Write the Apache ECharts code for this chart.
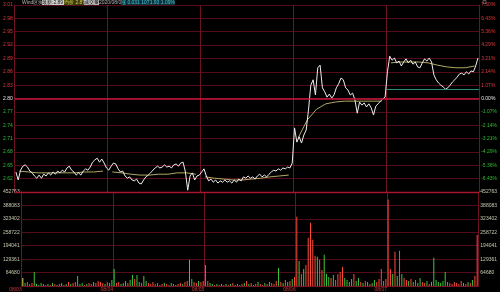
<!DOCTYPE html>
<html>
<head>
<meta charset="utf-8">
<script src="https://cdn.jsdelivr.net/npm/echarts@6/dist/echarts.min.js"></script>
<style>html,body{margin:0;padding:0;background:#000;}#c{width:500px;height:292px;}</style>
</head>
<body>
<div id="c"></div>
<script>
// ---- data ----
const dayLabels = ['08/03', '08/04', '08/05', '08/06', '08/07'];
const prevClose = 2.80;
const priceTicks = { min: 2.59, max: 3.01, step: 0.03 };
const volumeMax = 452763;
const refLineValue = 2.821;

const priceDay1 = [2.635,2.617,2.639,2.648,2.651,2.646,2.637,2.633,2.626,2.621,2.628,2.621,2.630,2.626,2.633,2.628,2.635,2.630,2.637,2.633,2.639,2.635,2.644,2.648,2.639,2.635,2.628,2.633,2.628,2.637,2.642,2.639,2.646,2.657,2.662,2.666,2.657,2.664,2.655,2.644];
const priceDay2 = [2.639,2.648,2.655,2.653,2.642,2.635,2.637,2.626,2.621,2.624,2.617,2.615,2.619,2.610,2.608,2.617,2.624,2.628,2.633,2.639,2.644,2.648,2.644,2.646,2.651,2.646,2.648,2.644,2.651,2.653,2.648,2.655,2.657,2.635,2.594,2.626,2.633,2.617,2.626,2.628];
const priceDay3 = [2.635,2.642,2.626,2.615,2.619,2.612,2.617,2.610,2.615,2.612,2.617,2.612,2.615,2.610,2.617,2.612,2.619,2.615,2.624,2.621,2.626,2.621,2.624,2.619,2.626,2.630,2.624,2.628,2.624,2.630,2.635,2.639,2.637,2.642,2.639,2.644,2.642,2.646,2.644,2.655];
const priceDay4 = [2.734,2.702,2.714,2.700,2.718,2.729,2.774,2.830,2.842,2.808,2.869,2.875,2.824,2.815,2.803,2.810,2.801,2.808,2.824,2.833,2.846,2.842,2.824,2.819,2.808,2.812,2.797,2.767,2.792,2.785,2.790,2.781,2.788,2.779,2.763,2.783,2.788,2.794,2.799,2.803];
const priceDay5 = [2.860,2.895,2.886,2.891,2.880,2.884,2.873,2.882,2.889,2.880,2.886,2.877,2.882,2.871,2.869,2.880,2.889,2.884,2.891,2.882,2.853,2.842,2.835,2.830,2.826,2.821,2.824,2.830,2.837,2.842,2.848,2.855,2.857,2.853,2.860,2.855,2.862,2.860,2.873,2.891];

const avgDay1 = [2.637,2.635,2.633,2.633,2.633,2.633,2.633,2.635,2.635,2.637];
const avgDay2 = [2.635,2.633,2.630,2.628,2.628,2.630,2.630,2.633,2.633,2.630];
const avgDay3 = [2.624,2.621,2.619,2.617,2.617,2.619,2.621,2.624,2.626,2.628];
const avgDay4 = [2.711,2.752,2.776,2.788,2.792,2.794,2.794,2.794,2.794,2.794];
const avgDay5 = [2.880,2.882,2.882,2.882,2.880,2.875,2.871,2.869,2.869,2.873];

const volDay1 = [38700,14500,19400,9700,14500,67800,9700,4800,14500,9700,4800,9700,4800,14500,9700,4800,9700,14500,4800,9700,19400,9700,14500,19400,48400,9700,14500,4800,9700,14500,9700,19400,14500,24200,19400,14500,9700,19400,14500,29100];
const volDay2 = [82300,14500,19400,9700,14500,24200,14500,29100,53300,33900,53300,19400,14500,48400,24200,14500,9700,19400,9700,14500,4800,9700,14500,9700,4800,14500,9700,4800,9700,14500,9700,19400,24200,125900,33900,19400,14500,24200,19400,24200];
const volDay3 = [101700,24200,14500,9700,4800,9700,4800,9700,4800,9700,4800,9700,14500,4800,9700,4800,9700,14500,24200,9700,14500,4800,9700,19400,9700,4800,14500,9700,19400,14500,9700,24200,87200,19400,14500,29100,19400,24200,33900,43600];
const volDay4 = [334100,120000,58100,82300,101700,232400,305000,222700,145300,140400,125900,77500,150100,58100,43600,38700,53300,29100,58100,67800,92000,38700,29100,19400,33900,58100,24200,38700,19400,14500,24200,19400,9700,14500,29100,19400,33900,82300,24200,33900];
const volDay5 = [416400,82300,58100,164600,48400,169500,58100,38700,29100,24200,33900,19400,29100,14500,38700,19400,14500,24200,9700,19400,135600,29100,19400,14500,24200,67800,19400,14500,9700,19400,14500,9700,24200,14500,9700,19400,14500,29100,48400,246900];

// ---- build ----
const perDay = 40;
const priceDays = [priceDay1, priceDay2, priceDay3, priceDay4, priceDay5];
const avgDays = [avgDay1, avgDay2, avgDay3, avgDay4, avgDay5];
const volDays = [volDay1, volDay2, volDay3, volDay4, volDay5];
const priceAll = [].concat(...priceDays);
const volAll = [].concat(...volDays);
const totalPts = priceAll.length;

const priceData = priceAll.map((v, i) => [i + 0.5, v]);
const volData = volAll.map((v, i) => {
  const prev = i > 0 ? priceAll[i - 1] : priceAll[0];
  const cur = priceAll[i];
  const col = cur > prev ? '#ff4a3a' : (cur < prev ? '#3cc83c' : '#e6d84a');
  return { value: [i + 0.5, v], itemStyle: { color: col } };
});

const avgSeries = avgDays.map((arr, d) => ({
  type: 'line', xAxisIndex: 0, yAxisIndex: 0, symbol: 'none', silent: true,
  lineStyle: { color: '#b2a862', width: 1 },
  data: arr.map((v, j) => [d * perDay + (j + 0.5) * (perDay / arr.length), v]),
  z: 3
}));

const gridColor = '#520c1a';
const fontFam = 'Liberation Sans, Arial, sans-serif';
const priceColor = v => (v > prevClose + 0.001 ? '#e03a3a' : (v < prevClose - 0.001 ? '#2fbf2f' : '#e8e8e8'));

const chart = echarts.init(document.getElementById('c'), null, { renderer: 'canvas' });
chart.setOption({
  backgroundColor: '#000',
  animation: false,
  grid: [
    { left: 14, right: 14, top: 5, height: 187 },
    { left: 14, right: 14, top: 192, height: 94 }
  ],
  xAxis: [
    { type: 'value', gridIndex: 0, min: 0, max: totalPts, interval: perDay,
      axisLine: { show: false }, axisTick: { show: false }, axisLabel: { show: false },
      splitLine: { show: true, lineStyle: { color: '#6e1226', width: 1 } } },
    { type: 'value', gridIndex: 1, min: 0, max: totalPts, interval: perDay,
      axisLine: { show: true, lineStyle: { color: '#7a1428' } }, axisTick: { show: false },
      splitLine: { show: true, lineStyle: { color: '#6e1226', width: 1 } },
      axisLabel: { show: true, fontSize: 5, color: '#c83a3a', fontFamily: fontFam, margin: 1, align: 'right',
        formatter: v => { const k = Math.round(v / perDay); return k < dayLabels.length ? dayLabels[k] : ''; } } }
  ],
  yAxis: [
    { type: 'value', gridIndex: 0, position: 'left', min: priceTicks.min, max: priceTicks.max, interval: priceTicks.step,
      axisLine: { show: true, lineStyle: { color: '#6e1226' } }, axisTick: { show: false },
      splitLine: { show: true, lineStyle: { color: gridColor, width: 1 } },
      axisLabel: { fontSize: 5, margin: 2, fontFamily: fontFam,
        formatter: v => (v < priceTicks.min + 0.005 ? '' : v.toFixed(2)),
        color: v => priceColor(v) } },
    { type: 'value', gridIndex: 0, position: 'right', min: priceTicks.min, max: priceTicks.max, interval: priceTicks.step,
      axisLine: { show: true, lineStyle: { color: '#6e1226' } }, axisTick: { show: false },
      splitLine: { show: false },
      axisLabel: { fontSize: 5, margin: 2, fontFamily: fontFam,
        formatter: v => (v < priceTicks.min + 0.005 ? '' : ((v - prevClose) / prevClose * 100).toFixed(2) + '%'),
        color: v => priceColor(v) } },
    { type: 'value', gridIndex: 1, position: 'left', min: 0, max: volumeMax, interval: volumeMax / 7,
      axisLine: { show: true, lineStyle: { color: '#6e1226' } }, axisTick: { show: false },
      splitLine: { show: true, lineStyle: { color: gridColor, width: 1 } },
      axisLabel: { fontSize: 5, margin: 2, fontFamily: fontFam, color: '#c8c8b0',
        formatter: v => (v < 1 ? '' : String(Math.round(v))) } },
    { type: 'value', gridIndex: 1, position: 'right', min: 0, max: volumeMax, interval: volumeMax / 7,
      axisLine: { show: true, lineStyle: { color: '#6e1226' } }, axisTick: { show: false },
      splitLine: { show: false },
      axisLabel: { fontSize: 5, margin: 2, fontFamily: fontFam, color: '#c8c8b0',
        formatter: v => (v < 1 ? '' : String(Math.round(v))) } }
  ],
  series: [
    { type: 'line', xAxisIndex: 0, yAxisIndex: 0, symbol: 'none', silent: true,
      lineStyle: { color: '#ececec', width: 1 }, data: priceData, z: 4,
      markLine: { silent: true, symbol: 'none', label: { show: false },
        data: [
          { yAxis: prevClose, lineStyle: { color: '#c8143a', width: 1.6, type: 'solid' } },
          { yAxis: priceTicks.min, lineStyle: { color: '#a8142c', width: 1.4, type: 'solid' } },
          [ { coord: [4 * perDay, refLineValue], lineStyle: { color: '#2c8c7c', width: 1, type: 'solid' } },
            { coord: [5 * perDay, refLineValue] } ]
        ] } },
    ...avgSeries,
    { type: 'bar', xAxisIndex: 1, yAxisIndex: 2, barWidth: 1, silent: true, data: volData, z: 2 }
  ],
  graphic: [
    { type: 'text', left: 22, top: 0, style: { text: 'Wind区块链指数', fill: '#b8b8b8', font: '5px ' + fontFam } },
    { type: 'text', left: 42, top: 0, style: { text: '最新:2.89 1.07%', fill: '#111', backgroundColor: '#cfcfcf', font: '5px ' + fontFam } },
    { type: 'text', left: 64, top: 0, style: { text: '均价 2.873', fill: '#d8d040', backgroundColor: '#3a3a10', font: '5px ' + fontFam } },
    { type: 'text', left: 84, top: 0, style: { text: '成交量', fill: '#111', backgroundColor: '#bdbdbd', font: '5px ' + fontFam } },
    { type: 'text', left: 99, top: 0, style: { text: '2020/08/07', fill: '#b8b8b8', font: '5px ' + fontFam } },
    { type: 'text', left: 121, top: 0, style: { text: '涨 0.031 1071.93 1.09%', fill: '#40c8d8', backgroundColor: '#103038', font: '5px ' + fontFam } },
    { type: 'rect', shape: { x: 483, y: 0.5, width: 3, height: 3 }, style: { fill: 'none', stroke: '#909090', lineWidth: 0.6 } }
  ]
});
</script>
</body>
</html>
